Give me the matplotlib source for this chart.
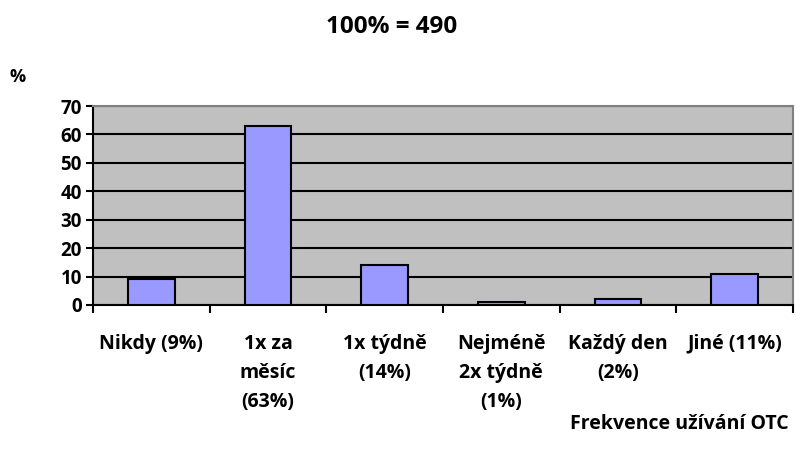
import matplotlib
matplotlib.use("Agg")
import matplotlib.pyplot as plt
import numpy as np

categories = ["Nikdy (9%)", "1x za\nměsíc\n(63%)", "1x týdně\n(14%)", "Nejméně\n2x týdně\n(1%)", "Každý den\n(2%)", "Jiné (11%)"]
values = [9, 63, 14, 1, 2, 11]
yticks = [0, 10, 20, 30, 40, 50, 60, 70]

plt.rcParams['font.family'] = ['Open Sans', 'DejaVu Sans']
plt.rcParams['font.weight'] = 'bold'

fig = plt.figure(figsize=(8.05, 4.58), dpi=100)
ax = fig.add_axes([93/805, 1-305/458, 700/805, 199/458])
ax.set_facecolor('#C0C0C0')

x = np.arange(len(values))
ax.bar(x, values, width=0.4, color='#9999FF', edgecolor='black', linewidth=1.5, zorder=3)
ax.set_xlim(-0.5, len(values)-0.5)
ax.set_ylim(0, 70)
ax.set_yticks(yticks)
ax.set_yticklabels([str(t) for t in yticks], fontsize=13.5, fontweight='bold')
ax.yaxis.grid(True, color='black', linewidth=1.5, zorder=1)
ax.set_axisbelow(True)

ax.set_xticks(np.arange(len(values)+1)-0.5)
ax.set_xticklabels([])
ax.tick_params(axis='x', length=6, width=1.5, direction='out')
ax.tick_params(axis='y', length=5, width=1.5, direction='out', pad=3)

for i, lab in enumerate(categories):
    ax.text(i, -0.145, lab, transform=ax.get_xaxis_transform(), ha='center', va='top',
            fontsize=14, fontweight='bold', linespacing=1.6)

for s in ['left', 'bottom']:
    ax.spines[s].set_color('black')
    ax.spines[s].set_linewidth(1.5)
for s in ['top', 'right']:
    ax.spines[s].set_color('#808080')
    ax.spines[s].set_linewidth(1.5)

fig.text(392/805, 1-27/458, "100% = 490", ha='center', va='center', fontsize=17.5, fontweight='bold')
fig.text(9/805, 1-77/458, "%", ha='left', va='center', fontsize=13, fontweight='bold')
fig.text(789/805, 1-424/458, "Frekvence užívání OTC", ha='right', va='center', fontsize=14, fontweight='bold')

fig.savefig("out.png", dpi=100)
